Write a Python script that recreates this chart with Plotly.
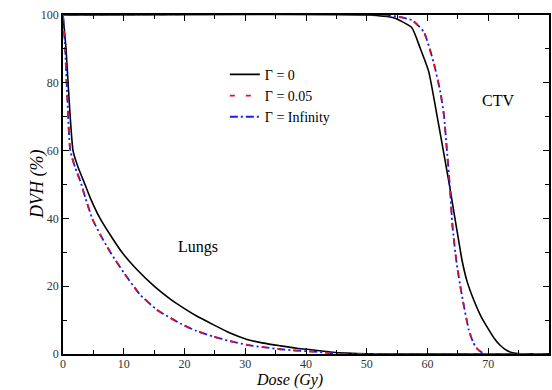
import plotly.graph_objects as go

# Lungs DVH (dose Gy, volume %)
lung_dose_g0 = [0, 0.5, 0.9, 1.65, 2.5, 3.4, 4.5, 6.1, 8.0, 9.7, 12.0, 15.0, 17.5, 19.3, 22.0, 24.8, 27.5, 30.3, 33.0, 35.8, 38.5, 41.2, 44.0, 46.7, 50.0, 55.0, 80.0]
lung_vol_g0 = [100, 90, 78, 60, 55, 51, 46, 40, 34.5, 30, 25.2, 20.0, 16.4, 14.2, 11.2, 8.6, 6.2, 4.3, 3.2, 2.4, 1.7, 1.2, 0.6, 0.25, 0.05, 0, 0]

lung_dose_g005 = [0, 0.35, 0.65, 1.2, 2.0, 2.85, 3.7, 4.8, 6.2, 7.8, 10.0, 12.7, 15.5, 19.3, 22.0, 24.8, 27.5, 30.3, 33.0, 35.8, 38.5, 41.2, 44.0, 46.7, 50.0, 80.0]
lung_vol_g005 = [100, 90, 78, 60, 55, 51, 46, 40, 35, 30, 24, 17.5, 13.0, 9.0, 6.8, 5.1, 3.8, 2.7, 2.0, 1.4, 1.0, 0.7, 0.3, 0.05, 0, 0]

lung_dose_ginf = [0, 0.35, 0.65, 1.2, 2.0, 2.85, 3.7, 4.8, 6.2, 7.8, 10.0, 12.7, 15.5, 19.3, 22.0, 24.8, 27.5, 30.3, 33.0, 35.8, 38.5, 41.2, 44.0, 46.7, 50.0, 80.0]
lung_vol_ginf = [100, 90, 78, 60, 55, 51, 46, 40, 35, 30, 24, 17.5, 13.0, 9.0, 6.8, 5.1, 3.8, 2.7, 2.0, 1.4, 1.0, 0.7, 0.3, 0.05, 0, 0]

# CTV DVH
ctv_dose_g0 = [0, 50, 54.4, 57.4, 58.8, 60.2, 61.5, 62.5, 63.5, 64.8, 65.7, 66.5, 67.6, 68.7, 69.8, 71.0, 72.0, 73.0, 74.2, 76.0, 80.0]
ctv_vol_g0 = [100, 100, 99.2, 96.3, 90.2, 83.3, 71, 61, 51, 37, 27.5, 21.5, 16, 11.5, 8, 4.6, 2.5, 1.1, 0.3, 0, 0]

ctv_dose_g005 = [0, 53, 57.4, 59.4, 61.0, 62.1, 62.7, 63.2, 63.7, 64.1, 64.8, 65.7, 66.8, 67.5, 68.1, 69.0, 69.8, 80.0]
ctv_vol_g005 = [100, 100, 98.5, 95, 86, 77.4, 70.5, 60, 49, 38, 26.7, 16.9, 7.1, 3.5, 1.7, 0.4, 0, 0]

ctv_dose_ginf = [0, 53, 57.4, 59.4, 61.0, 62.1, 62.7, 63.2, 63.7, 64.1, 64.8, 65.7, 66.8, 67.5, 68.1, 69.0, 69.8, 80.0]
ctv_vol_ginf = [100, 100, 98.5, 95, 86, 77.4, 70.5, 60, 49, 38, 26.7, 16.9, 7.1, 3.5, 1.7, 0.4, 0, 0]

names = ["Γ = 0", "Γ = 0.05", "Γ = Infinity"]
colors = ["black", "#e8101a", "#1a1aee"]
dashes = ["solid", "5px,11px", "8px,3px,2px,3px"]
widths = [1.6, 1.8, 1.8]

FONT = "Liberation Serif"

fig = go.Figure()
series = [
    (lung_dose_g0, lung_vol_g0, ctv_dose_g0, ctv_vol_g0),
    (lung_dose_g005, lung_vol_g005, ctv_dose_g005, ctv_vol_g005),
    (lung_dose_ginf, lung_vol_ginf, ctv_dose_ginf, ctv_vol_ginf),
]
# draw order: black, blue, then red on top so both colours show
for i in [0, 2, 1]:
    ld, lv, cd, cv = series[i]
    line = dict(color=colors[i], width=widths[i], dash=dashes[i], shape="spline", smoothing=0.5)
    fig.add_trace(go.Scatter(x=ld, y=lv, mode="lines", line=line, name=names[i],
                             legendgroup=names[i], legendrank=i + 1, showlegend=True))
    fig.add_trace(go.Scatter(x=cd, y=cv, mode="lines", line=line, name=names[i],
                             legendgroup=names[i], legendrank=i + 1, showlegend=False))

fig.add_annotation(x=22.3, y=31.5, text="Lungs", showarrow=False,
                   font=dict(family=FONT, size=16, color="black"))
fig.add_annotation(x=71.6, y=74.9, text="CTV", showarrow=False,
                   font=dict(family=FONT, size=16, color="black"))

# axis titles
fig.add_annotation(xref="paper", yref="paper", x=0.467, y=-0.106, yanchor="bottom",
                   text="<i>Dose (Gy)</i>", showarrow=False, borderpad=0,
                   font=dict(family=FONT, size=16, color="black"))
fig.add_annotation(xref="paper", yref="paper", x=-0.078, y=0.5, textangle=-90,
                   text="<i>DVH (%)</i>", showarrow=False,
                   font=dict(family=FONT, size=18, color="black"))

axis_common = dict(
    showgrid=False, zeroline=False, showline=True, linecolor="black", linewidth=1.5,
    mirror="ticks", ticks="inside", ticklen=6, tickwidth=1.3, tickcolor="black",
    tickfont=dict(family=FONT, size=12, color="#333333"), automargin=False,
)
fig.update_xaxes(range=[0, 80], dtick=10, tick0=0, ticklabelstandoff=-2,
                 minor=dict(dtick=5, ticks="inside", ticklen=4, tickcolor="black", tickwidth=1),
                 **axis_common)
fig.update_yaxes(range=[0, 100], dtick=20, tick0=0,
                 minor=dict(dtick=10, ticks="inside", ticklen=4, tickcolor="black", tickwidth=1),
                 **axis_common)

fig.update_layout(
    width=552, height=390,
    margin=dict(l=63, r=3, t=15, b=36),
    paper_bgcolor="white", plot_bgcolor="white",
    legend=dict(x=0.333, y=0.871, xanchor="left", yanchor="top",
                bgcolor="rgba(0,0,0,0)", font=dict(family=FONT, size=14, color="black"),
                tracegroupgap=0, itemwidth=30, traceorder="normal"),
)

fig.write_html("out.html", config={"displayModeBar": False},
               post_script="document.body.style.margin='0';document.body.style.overflow='hidden';")
